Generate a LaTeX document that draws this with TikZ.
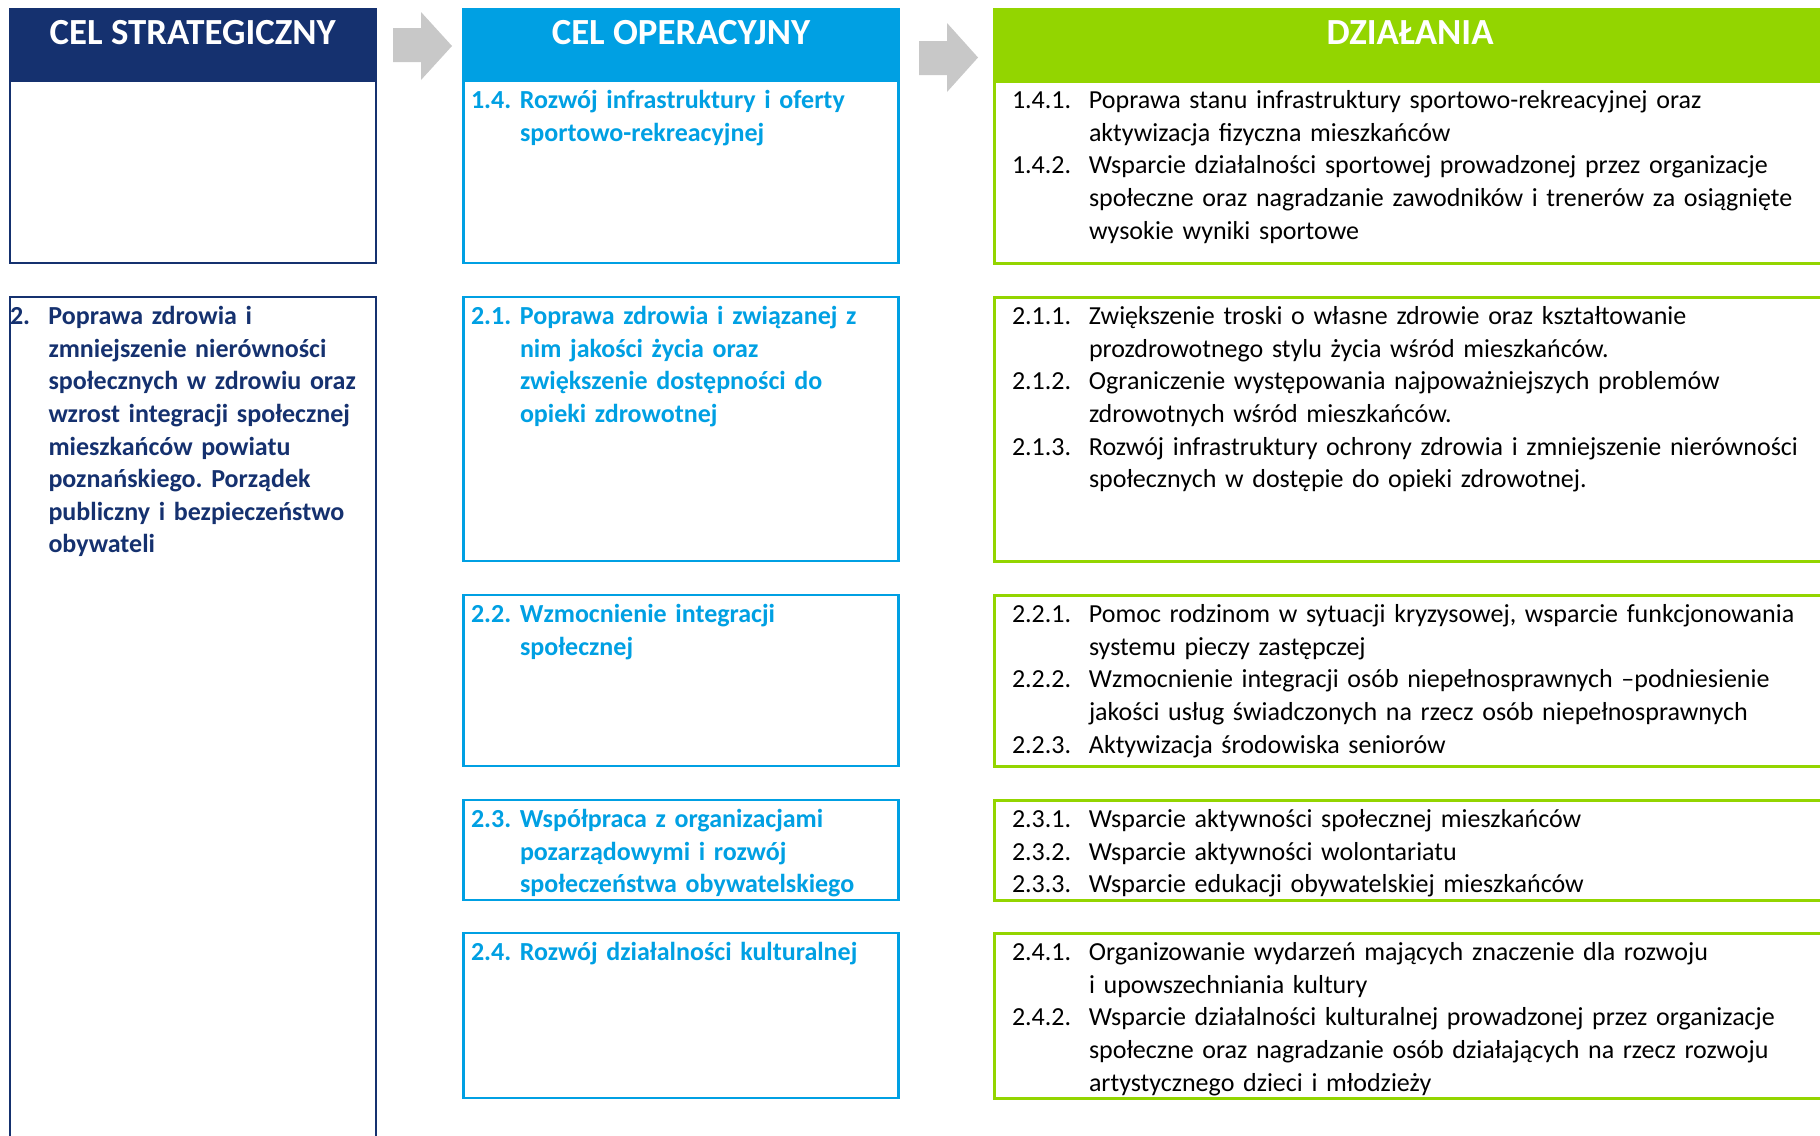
\documentclass[tikz,border=0pt]{standalone}
\usepackage{fontspec}
\setmainfont{Carlito}
\usetikzlibrary{calc}
\definecolor{navy}{HTML}{15316F}
\definecolor{cyanb}{HTML}{00A0E3}
\definecolor{greenb}{HTML}{93D500}
\definecolor{arrowgray}{HTML}{C8C8C8}
\frenchspacing
\newcommand\hitem[3]{\par\noindent\hangindent=#1\hangafter=1\makebox[#1][l]{\rule{0pt}{24pt}#2}#3\par}
\newcommand\nl{\newline}
\begin{document}
\begin{tikzpicture}[x=1pt,y=-1pt,
  every node/.style={inner sep=0pt, outer sep=0pt},
  sbox/.style={draw=navy, line width=2pt, anchor=north west, minimum width=366.5pt},
  obox/.style={draw=cyanb, line width=2.5pt, anchor=north west, minimum width=435pt},
  abox/.style={draw=greenb, line width=3pt, anchor=north west, minimum width=836pt},
  hdrbox/.style={anchor=north west, minimum height=73pt},
  hdrtxt/.style={anchor=base, text=white, font=\bfseries\fontsize{36.8}{44}\selectfont},
  stxt/.style={anchor=north west, text width=500pt, align=left, text=navy, font=\bfseries\fontsize{26}{32.6}\selectfont},
  otxt/.style={anchor=north west, text width=600pt, align=left, text=cyanb, font=\bfseries\fontsize{26}{32.6}\selectfont},
  atxt/.style={anchor=north west, text width=820pt, align=left, text=black, font=\fontsize{26}{32.6}\selectfont},
  garrow/.style={fill=arrowgray, draw=none}
]
\useasboundingbox (0,0) rectangle (1820,1135);
\clip (0,0) rectangle (1820,1135);
\fill[white] (0,0) rectangle (1820,1135);

% headers
\node[hdrbox, fill=navy, minimum width=368.5pt] (hs) at (8.5,8) {};
\node[hdrbox, fill=cyanb, minimum width=437.5pt] (ho) at (462.25,8) {};
\node[hdrbox, fill=greenb, minimum width=839pt] (ha) at (992.5,8) {};
\node[hdrtxt] (hst) at ($(hs.north)+(0,36)$) {CEL STRATEGICZNY};
\node[hdrtxt] (hot) at ($(ho.north)+(0,36)$) {CEL OPERACYJNY};
\node[hdrtxt] (hat) at ($(ha.north west)+(417.5,36)$) {DZIAŁANIA};

% arrows
\fill[garrow] (393,28) -- (421,28) -- (421,12) -- (452,46) -- (421,80) -- (421,62) -- (393,62) -- cycle;
\fill[garrow] (919,41) -- (947,41) -- (947,23) -- (978,57.5) -- (947,92) -- (947,75) -- (919,75) -- cycle;

% strategic column
\node[sbox, minimum height=182pt] (s1) at (9.5,81) {};
\node[sbox, minimum height=860pt] (s2) at (9.5,297) {};

% operational column
\node[obox, minimum height=182pt] (o14) at (463.5,81) {};
\node[obox, minimum height=264pt] (o21) at (463.5,297) {};
\node[obox, minimum height=171pt] (o22) at (463.5,595) {};
\node[obox, minimum height=100pt] (o23) at (463.5,800) {};
\node[obox, minimum height=165pt] (o24) at (463.5,933) {};

% action column
\node[abox, minimum height=182pt] (a14) at (994,81) {};
\node[abox, minimum height=264pt] (a21) at (994,297) {};
\node[abox, minimum height=171pt] (a22) at (994,595) {};
\node[abox, minimum height=100pt] (a23) at (994,800) {};
\node[abox, minimum height=165pt] (a24) at (994,933) {};

% strategic text
\node[stxt] (s2t) at ($(s2.north west)+(0.5,-5)$) {\hitem{38.5pt}{2.}{Poprawa zdrowia i\nl zmniejszenie nierówności\nl społecznych w zdrowiu oraz\nl wzrost integracji społecznej\nl mieszkańców powiatu\nl poznańskiego. Porządek\nl publiczny i bezpieczeństwo\nl obywateli}};

% operational texts
\node[otxt] (o14t) at ($(o14.north west)+(7.5,-5)$) {\hitem{49pt}{1.4.}{Rozwój infrastruktury i oferty\nl sportowo-rekreacyjnej}};
\node[otxt] (o21t) at ($(o21.north west)+(7.5,-5)$) {\hitem{49pt}{2.1.}{Poprawa zdrowia i związanej z\nl nim jakości życia oraz\nl zwiększenie dostępności do\nl opieki zdrowotnej}};
\node[otxt] (o22t) at ($(o22.north west)+(7.5,-5)$) {\hitem{49pt}{2.2.}{Wzmocnienie integracji\nl społecznej}};
\node[otxt] (o23t) at ($(o23.north west)+(7.5,-5)$) {\hitem{49pt}{2.3.}{Współpraca z organizacjami\nl pozarządowymi i rozwój\nl społeczeństwa obywatelskiego}};
\node[otxt] (o24t) at ($(o24.north west)+(7.5,-5)$) {\hitem{49pt}{2.4.}{Rozwój działalności kulturalnej}};

% action texts
\node[atxt] (a14t) at ($(a14.north west)+(18,-5)$) {%
\hitem{77pt}{1.4.1.}{Poprawa stanu infrastruktury sportowo-rekreacyjnej oraz\nl aktywizacja fizyczna mieszkańców}%
\hitem{77pt}{1.4.2.}{Wsparcie działalności sportowej prowadzonej przez organizacje\nl społeczne oraz nagradzanie zawodników i trenerów za osiągnięte\nl wysokie wyniki sportowe}};
\node[atxt] (a21t) at ($(a21.north west)+(18,-5)$) {%
\hitem{77pt}{2.1.1.}{Zwiększenie troski o własne zdrowie oraz kształtowanie\nl prozdrowotnego stylu życia wśród mieszkańców.}%
\hitem{77pt}{2.1.2.}{Ograniczenie występowania najpoważniejszych problemów\nl zdrowotnych wśród mieszkańców.}%
\hitem{77pt}{2.1.3.}{Rozwój infrastruktury ochrony zdrowia i zmniejszenie nierówności\nl społecznych w dostępie do opieki zdrowotnej.}};
\node[atxt] (a22t) at ($(a22.north west)+(18,-5)$) {%
\hitem{77pt}{2.2.1.}{Pomoc rodzinom w sytuacji kryzysowej, wsparcie funkcjonowania\nl systemu pieczy zastępczej}%
\hitem{77pt}{2.2.2.}{Wzmocnienie integracji osób niepełnosprawnych –podniesienie\nl jakości usług świadczonych na rzecz osób niepełnosprawnych}%
\hitem{77pt}{2.2.3.}{Aktywizacja środowiska seniorów}};
\node[atxt] (a23t) at ($(a23.north west)+(18,-5)$) {%
\hitem{77pt}{2.3.1.}{Wsparcie aktywności społecznej mieszkańców}%
\hitem{77pt}{2.3.2.}{Wsparcie aktywności wolontariatu}%
\hitem{77pt}{2.3.3.}{Wsparcie edukacji obywatelskiej mieszkańców}};
\node[atxt] (a24t) at ($(a24.north west)+(18,-5)$) {%
\hitem{77pt}{2.4.1.}{Organizowanie wydarzeń mających znaczenie dla rozwoju\nl i upowszechniania kultury}%
\hitem{77pt}{2.4.2.}{Wsparcie działalności kulturalnej prowadzonej przez organizacje\nl społeczne oraz nagradzanie osób działających na rzecz rozwoju\nl artystycznego dzieci i młodzieży}};
\end{tikzpicture}
\end{document}
